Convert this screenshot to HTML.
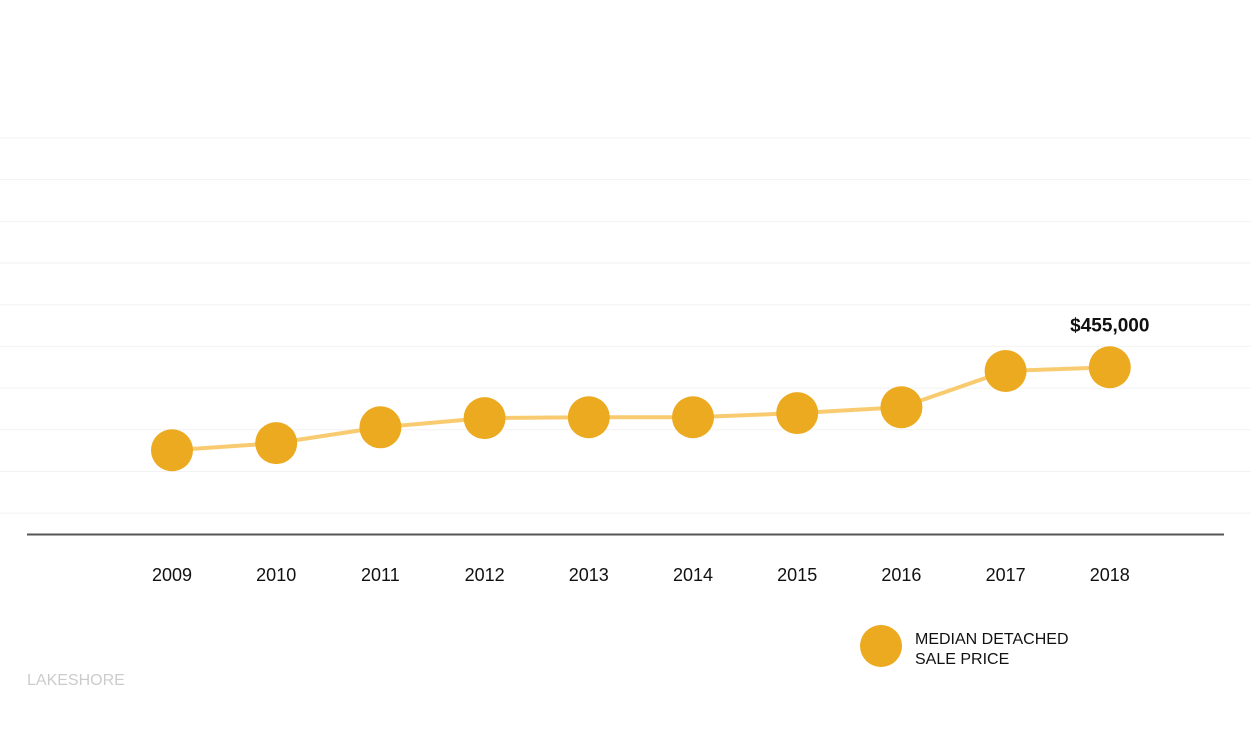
<!DOCTYPE html>
<html><head><meta charset="utf-8"><style>
body{margin:0;background:#fff;font-family:"Liberation Sans",sans-serif;}
svg{display:block}
</style></head><body>
<svg id="chart" width="1251" height="730">
<g id="grid"></g>
<line x1="27" x2="1224" y1="534.5" y2="534.5" stroke="#555" stroke-width="2"/>
<g id="xlabels"></g>
<path id="line" fill="none" stroke="#f9cb70" stroke-width="4"/>
<g id="points"></g>
<text id="label" font-size="19" font-weight="bold" text-anchor="middle" fill="#111"></text>
<g>
<circle cx="881" cy="646" r="21" fill="#ebaa20"/>
<text x="915" y="644" font-size="16" fill="#111">MEDIAN DETACHED</text>
<text x="915" y="664" font-size="16" fill="#111">SALE PRICE</text>
</g>
<text x="27" y="685" font-size="16" fill="#ccc">LAKESHORE</text>
</svg>
<script>
const years=["2009","2010","2011","2012","2013","2014","2015","2016","2017","2018"];
const prices=[435100,436800,440600,442800,443000,443000,444000,445400,454100,455000];
const gridValues=[420000,430000,440000,450000,460000,470000,480000,490000,500000,510000];
const lastLabel="$455,000";
const NS="http://www.w3.org/2000/svg";
const yMin=415000,yMax=510000,yBottom=534,yTop=138;
const y=v=>yBottom-(v-yMin)/(yMax-yMin)*(yBottom-yTop);
const x=i=>172+i*104.2;
const g=document.getElementById('grid');
gridValues.forEach(v=>{const l=document.createElementNS(NS,'line');
l.setAttribute('x1',0);l.setAttribute('x2',1251);l.setAttribute('y1',y(v));l.setAttribute('y2',y(v));
l.setAttribute('stroke','#f2f2f2');l.setAttribute('stroke-width','1');


g.appendChild(l);});
const xl=document.getElementById('xlabels');
years.forEach((t,i)=>{const e=document.createElementNS(NS,'text');
e.setAttribute('x',x(i));e.setAttribute('y',581);e.setAttribute('text-anchor','middle');
e.setAttribute('font-size','18');e.setAttribute('fill','#111');e.textContent=t;


xl.appendChild(e);});
document.getElementById('line').setAttribute('d',prices.map((v,i)=>(i?'L':'M')+x(i)+','+y(v)).join(''));
const p=document.getElementById('points');
prices.forEach((v,i)=>{const c=document.createElementNS(NS,'circle');
c.setAttribute('cx',x(i));c.setAttribute('cy',y(v));c.setAttribute('r',21);c.setAttribute('fill','#ebaa20');


p.appendChild(c);});
const lb=document.getElementById('label');const li=prices.length-1;
lb.setAttribute('x',x(li));lb.setAttribute('y',y(prices[li])-36);lb.textContent=lastLabel;
</script>
</body></html>
